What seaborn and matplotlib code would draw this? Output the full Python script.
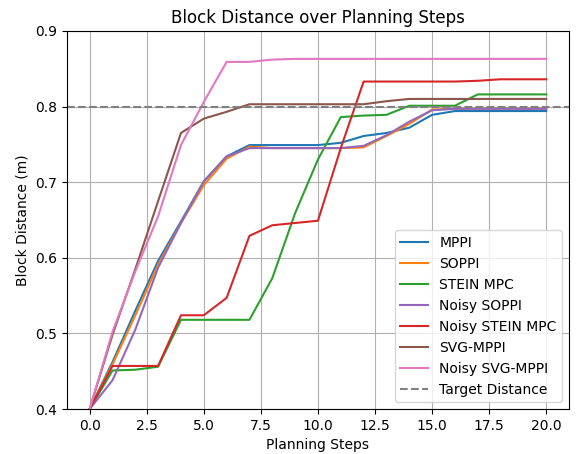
import matplotlib
matplotlib.use("Agg")
import matplotlib.pyplot as plt
import seaborn as sns
import numpy as np
import pandas as pd

steps = list(range(21))

mppi = [0.400, 0.462, 0.530, 0.596, 0.648, 0.701, 0.734, 0.749, 0.749, 0.749, 0.749,
        0.752, 0.761, 0.765, 0.772, 0.789, 0.794, 0.794, 0.794, 0.794, 0.794]
soppi = [0.400, 0.459, 0.524, 0.591, 0.646, 0.696, 0.731, 0.747, 0.745, 0.745, 0.745,
         0.745, 0.746, 0.761, 0.777, 0.796, 0.797, 0.797, 0.797, 0.797, 0.797]
stein_mpc = [0.400, 0.451, 0.452, 0.456, 0.518, 0.518, 0.518, 0.518, 0.573, 0.659, 0.730,
             0.786, 0.788, 0.789, 0.801, 0.801, 0.801, 0.816, 0.816, 0.816, 0.816]
noisy_soppi = [0.400, 0.438, 0.505, 0.587, 0.646, 0.701, 0.734, 0.745, 0.745, 0.745, 0.745,
               0.745, 0.748, 0.762, 0.780, 0.795, 0.797, 0.797, 0.797, 0.797, 0.797]
noisy_stein_mpc = [0.400, 0.457, 0.457, 0.457, 0.524, 0.524, 0.547, 0.629, 0.643, 0.646, 0.649,
                   0.745, 0.833, 0.833, 0.833, 0.833, 0.833, 0.834, 0.836, 0.836, 0.836]
svg_mppi = [0.400, 0.498, 0.585, 0.675, 0.765, 0.784, 0.793, 0.803, 0.803, 0.803, 0.803,
            0.803, 0.803, 0.807, 0.810, 0.810, 0.810, 0.810, 0.810, 0.810, 0.810]
noisy_svg_mppi = [0.400, 0.502, 0.582, 0.655, 0.749, 0.806, 0.859, 0.859, 0.862, 0.863, 0.863,
                  0.863, 0.863, 0.863, 0.863, 0.863, 0.863, 0.863, 0.863, 0.863, 0.863]
target_distance = 0.8

series = [("MPPI", mppi), ("SOPPI", soppi), ("STEIN MPC", stein_mpc),
          ("Noisy SOPPI", noisy_soppi), ("Noisy STEIN MPC", noisy_stein_mpc),
          ("SVG-MPPI", svg_mppi), ("Noisy SVG-MPPI", noisy_svg_mppi)]
color_idx = [0, 1, 2, 4, 3, 5, 6]

fig, ax = plt.subplots(figsize=(5.76, 4.54), dpi=100)
colors = sns.color_palette("tab10")
for (name, vals), ci in zip(series, color_idx):
    sns.lineplot(x=steps, y=vals, ax=ax, label=name, color=colors[ci], linewidth=1.5)

ax.axhline(target_distance, color="gray", linestyle="--", linewidth=1.5, label="Target Distance")
ax.set_ylim(0.4, 0.9)
ax.set_xlim(-1, 21)
ax.set_title("Block Distance over Planning Steps")
ax.set_xlabel("Planning Steps")
ax.set_ylabel("Block Distance (m)")
ax.grid(True)
ax.legend(loc="lower right")
fig.subplots_adjust(left=0.116, right=0.988, top=0.932, bottom=0.099)
fig.savefig("out.png", dpi=100)
